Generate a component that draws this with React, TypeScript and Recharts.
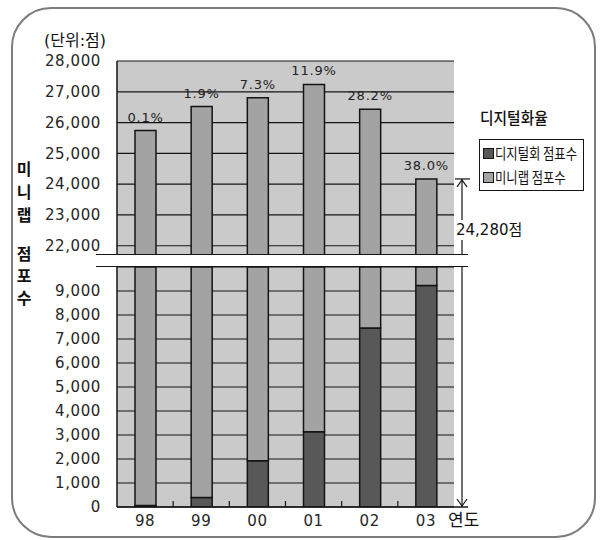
import React from "react";
import { BarChart, Bar, XAxis, YAxis, CartesianGrid, LabelList, Legend, ReferenceLine } from "recharts";

const years = ["98", "99", "00", "01", "02", "03"];
const digitalScores = [60, 400, 1930, 3140, 7460, 9230];
const minilabScores = [25680, 26120, 24880, 24100, 18970, 14940];
const digitalRates = ["0.1%", "1.9%", "7.3%", "11.9%", "28.2%", "38.0%"];
const upperTicks = [22000, 23000, 24000, 25000, 26000, 27000, 28000];
const lowerTicks = [0, 1000, 2000, 3000, 4000, 5000, 6000, 7000, 8000, 9000];
const dropNote = "24,280점";

const data = years.map((y, i) => ({
  year: y,
  digital: digitalScores[i],
  minilab: minilabScores[i],
  rate: digitalRates[i],
}));
const lastTotal = digitalScores[5] + minilabScores[5];

const FONT = "'DejaVu Sans', 'Noto Sans CJK KR', sans-serif";
const KFONT = "'Noto Sans CJK KR', sans-serif";
const BG = "#cacaca";
const LIGHT = "#a3a3a3";
const DARK = "#585858";
const INK = "#141414";
const UPPER_BOTTOM = 255;
const LOWER_TOP = 267;
const MARGIN_R = 148;

const fmt = (v: number) => v.toLocaleString("en-US");
const tickStyle = { fontFamily: FONT, fontSize: 15, fill: "#262626", letterSpacing: 0.6 };

function YearTick(props: any) {
  const { x, y, payload, index, visibleTicksCount } = props;
  const half = payload?.offset ?? 28;
  const axisY = y - 8;
  return (
    <g>
      <text x={x} y={y} dy="0.71em" textAnchor="middle" fontFamily={FONT} fontSize={15} fill="#262626" letterSpacing={0.6}>
        {payload.value}
      </text>
      {index < visibleTicksCount - 1 && (
        <line x1={x + half} x2={x + half} y1={axisY - 6} y2={axisY} stroke={INK} strokeWidth={1.2} />
      )}
    </g>
  );
}

function TopArrow(p: any) {
  const x = p.x2 + 8;
  const y = p.y1;
  return (
    <g stroke={INK} strokeWidth={1.2} fill="none">
      <line x1={p.x2 + 1} x2={p.x2 + 16} y1={y} y2={y} />
      <line x1={x} x2={x} y1={y} y2={UPPER_BOTTOM} />
      <polyline points={`${x - 5},${y + 8} ${x},${y + 1} ${x + 5},${y + 8}`} />
    </g>
  );
}

function BottomArrow(p: any) {
  const x = p.x2 + 8;
  const y = p.y1;
  return (
    <g stroke={INK} strokeWidth={1.2} fill="none">
      <line x1={p.x2} x2={p.x2 + 14} y1={y} y2={y} strokeWidth={1.5} />
      <line x1={x} x2={x} y1={LOWER_TOP} y2={y} />
      <polyline points={`${x - 5},${y - 8} ${x},${y - 1} ${x + 5},${y - 8}`} />
    </g>
  );
}

function LegendBox(props: any) {
  const items = props.payload || [];
  return (
    <div style={{ width: 98, border: `1.5px solid ${INK}`, padding: "1px 2px 1px 3px", background: "#fff", fontFamily: KFONT, fontSize: 15, color: "#111", overflow: "hidden" }}>
      {items.map((it: any) => (
        <div key={it.value} style={{ height: 24, lineHeight: "24px", display: "flex", alignItems: "center", whiteSpace: "nowrap" }}>
          <span style={{ flex: "none", display: "inline-block", width: 9, height: 9, border: `1px solid ${INK}`, background: it.color, marginRight: 1 }} />
          <span style={{ display: "inline-block", transform: "scaleX(0.82)", transformOrigin: "left center" }}>{it.value}</span>
        </div>
      ))}
    </div>
  );
}

const abs = (o: React.CSSProperties): React.CSSProperties => ({ position: "absolute", ...o });

export default function App() {
  return (
    <div style={abs({ left: 0, top: 0, width: 602, height: 540, fontFamily: FONT, color: "#111", background: "#fff" })}>
      <div style={abs({ left: 11, top: 7, width: 585, height: 531, border: "2.5px solid #7c7c7c", borderRadius: 40, boxSizing: "border-box" })} />

      <div style={abs({ left: 0, top: 0 })}>
        <BarChart width={602} height={UPPER_BOTTOM} data={data} margin={{ top: 61, right: MARGIN_R, bottom: 0, left: 0 }} barSize={21}>
          <CartesianGrid vertical={false} stroke={INK} strokeWidth={1.2} fill={BG} fillOpacity={1} />
          <XAxis dataKey="year" hide />
          <YAxis
            domain={[21700, 28000]}
            allowDataOverflow
            ticks={upperTicks}
            tickFormatter={fmt}
            tick={tickStyle}
            tickLine={false}
            tickSize={6}
            tickMargin={10}
            axisLine={{ stroke: INK, strokeWidth: 1.5 }}
            width={117}
          />
          <Bar dataKey="digital" stackId="s" fill={DARK} stroke={INK} strokeWidth={1.5} isAnimationActive={false} />
          <Bar dataKey="minilab" stackId="s" fill={LIGHT} stroke={INK} strokeWidth={1.5} isAnimationActive={false}>
            <LabelList dataKey="rate" position="top" offset={9} style={{ fontFamily: FONT, fontSize: 13, fill: "#222", letterSpacing: 0.8 }} />
          </Bar>
          <ReferenceLine y={lastTotal} shape={TopArrow} />
        </BarChart>
      </div>

      <div style={abs({ left: 0, top: 0 })}>
        <BarChart width={602} height={540} data={data} margin={{ top: LOWER_TOP, right: MARGIN_R, bottom: 3, left: 0 }} barSize={21}>
          <CartesianGrid vertical={false} stroke={INK} strokeWidth={1.2} fill={BG} fillOpacity={1} />
          <XAxis
            dataKey="year"
            height={30}
            tickLine={false}
            tickSize={6}
            tickMargin={2}
            axisLine={{ stroke: INK, strokeWidth: 1.5 }}
            tick={<YearTick />}
            interval={0}
          />
          <YAxis
            domain={[0, 10000]}
            allowDataOverflow
            ticks={lowerTicks}
            tickFormatter={fmt}
            tick={tickStyle}
            tickLine={false}
            tickSize={6}
            tickMargin={10}
            axisLine={{ stroke: INK, strokeWidth: 1.5 }}
            width={117}
          />
          <Bar dataKey="digital" name="디지털회 점표수" stackId="s" fill={DARK} stroke={INK} strokeWidth={1.5} isAnimationActive={false} />
          <Bar dataKey="minilab" name="미니랩 점포수" stackId="s" fill={LIGHT} stroke={INK} strokeWidth={1.5} isAnimationActive={false} />
          <ReferenceLine y={0} shape={BottomArrow} />
          <Legend
            layout="vertical"
            align="center"
            verticalAlign="middle"
            content={<LegendBox />}
            wrapperStyle={{ left: 479, top: 139, width: "auto", height: "auto" }}
          />
        </BarChart>
      </div>

      {/* axis break */}
      <div style={abs({ left: 96, top: UPPER_BOTTOM - 1, width: 372, borderTop: `1.5px solid ${INK}` })} />
      <div style={abs({ left: 96, top: LOWER_TOP - 1, width: 372, borderTop: `1.5px solid ${INK}` })} />

      <div style={abs({ left: 44, top: 27, fontSize: 16, fontFamily: FONT, whiteSpace: "nowrap" })}>(단위:점)</div>
      <div style={abs({ left: 14, top: 157, width: 20, fontFamily: KFONT, fontSize: 16, fontWeight: 700, lineHeight: "23px", textAlign: "center" })}>
        미<br />니<br />랩
      </div>
      <div style={abs({ left: 14, top: 242, width: 20, fontFamily: KFONT, fontSize: 16, fontWeight: 700, lineHeight: "22px", textAlign: "center" })}>
        점<br />포<br />수
      </div>
      <div style={abs({ left: 480, top: 105, fontFamily: KFONT, fontSize: 16, fontWeight: 500, whiteSpace: "nowrap", transform: "scaleX(0.92)", transformOrigin: "left center" })}>디지털화율</div>
      <div style={abs({ left: 456, top: 220, fontSize: 15, background: "#fff", whiteSpace: "nowrap", lineHeight: "20px" })}>{dropNote}</div>
      <div style={abs({ left: 448, top: 508, fontFamily: KFONT, fontSize: 17, whiteSpace: "nowrap", lineHeight: "22px" })}>연도</div>
    </div>
  );
}
